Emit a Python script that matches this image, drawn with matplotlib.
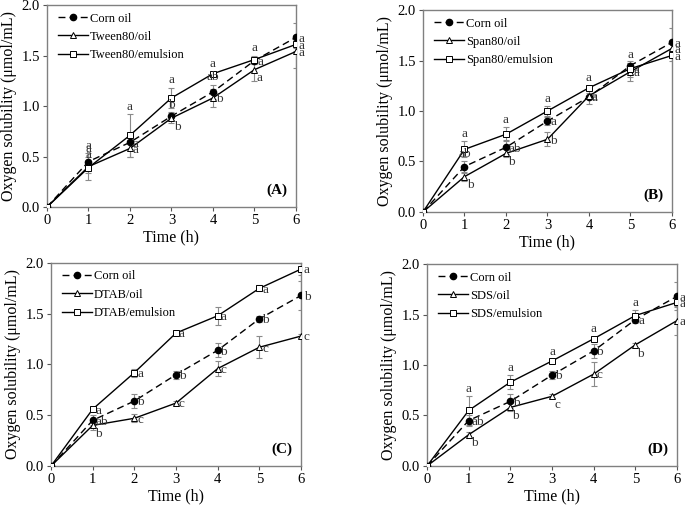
import matplotlib.pyplot as plt
import numpy as np

plt.rcParams['font.family'] = ['Liberation Serif', 'DejaVu Serif']
plt.rcParams['mathtext.fontset'] = 'stix'

time_h = [0, 1, 2, 3, 4, 5, 6]

# Corn oil control (same in every panel)
corn_y = [0, 0.45, 0.64, 0.90, 1.14, 1.45, 1.68]
corn_err = [0, 0.05, 0.07, 0.04, 0.07, 0.03, 0.14]

# (A) Tween80
tween_oil_y = [0, 0.40, 0.58, 0.88, 1.08, 1.36, 1.54]
tween_oil_err = [0, 0.13, 0.08, 0.05, 0.09, 0.11, 0.16]
tween_emu_y = [0, 0.39, 0.71, 1.08, 1.32, 1.46, 1.61]
tween_emu_err = [0, 0.05, 0.21, 0.10, 0.02, 0.04, 0.04]

# (B) Span80
span_oil_y = [0, 0.35, 0.58, 0.72, 1.15, 1.39, 1.62]
span_oil_err = [0, 0.04, 0.04, 0.07, 0.03, 0.09, 0.05]
span_emu_y = [0, 0.62, 0.77, 1.00, 1.23, 1.42, 1.55]
span_emu_err = [0, 0.08, 0.07, 0.05, 0.02, 0.08, 0.05]

# (C) DTAB
dtab_oil_y = [0, 0.40, 0.47, 0.62, 0.96, 1.17, 1.28]
dtab_oil_err = [0, 0.05, 0.04, 0.02, 0.07, 0.11, 0.02]
dtab_emu_y = [0, 0.56, 0.92, 1.31, 1.48, 1.75, 1.94]
dtab_emu_err = [0, 0.02, 0.04, 0.02, 0.09, 0.03, 0.06]

# (D) SDS
sds_oil_y = [0, 0.31, 0.58, 0.69, 0.91, 1.20, 1.44]
sds_oil_err = [0, 0.03, 0.04, 0.02, 0.12, 0.02, 0.14]
sds_emu_y = [0, 0.55, 0.83, 1.04, 1.26, 1.49, 1.62]
sds_emu_err = [0, 0.14, 0.07, 0.02, 0.02, 0.05, 0.05]

# significance letters for t = 1..6
corn_letters = {
    'A': ['a', 'a', 'b', 'ab', 'a', 'a'],
    'B': ['ab', 'ab', 'a', 'a', 'a', 'a'],
    'C': ['ab', 'b', 'b', 'b', 'b', 'b'],
    'D': ['ab', 'b', 'b', 'b', 'a', 'a'],
}
oil_letters = {
    'A': ['a', 'a', 'b', 'b', 'a', 'a'],
    'B': ['b', 'b', 'b', 'a', 'a', 'a'],
    'C': ['b', 'c', 'c', 'c', 'c', 'c'],
    'D': ['b', 'b', 'c', 'c', 'b', 'a'],
}
emu_letters = {
    'A': ['a'] * 6,
    'B': ['a'] * 6,
    'C': ['a'] * 6,
    'D': ['a'] * 6,
}

# where each letter sits: r = right, u = above, d = below right
corn_pos = {
    'A': 'uruurr', 'B': 'urrrur', 'C': 'rrrrrr', 'D': 'rrrrrr',
}
oil_pos = {
    'A': 'urdrdr', 'B': 'ddrrrr', 'C': 'drrrrr', 'D': 'dddrdr',
}
emu_pos = {
    'A': 'uuuuur', 'B': 'uuuurr', 'C': 'rrrrrr', 'D': 'uuuuur',
}

panels = [
    ('A', 'Tween80', tween_oil_y, tween_oil_err, tween_emu_y, tween_emu_err),
    ('B', 'Span80', span_oil_y, span_oil_err, span_emu_y, span_emu_err),
    ('C', 'DTAB', dtab_oil_y, dtab_oil_err, dtab_emu_y, dtab_emu_err),
    ('D', 'SDS', sds_oil_y, sds_oil_err, sds_emu_y, sds_emu_err),
]

boxes = {
    'A': [0.0686, 0.5925, 0.3635, 0.3976],
    'B': [0.6175, 0.5827, 0.3635, 0.3976],
    'C': [0.0745, 0.0827, 0.3650, 0.3996],
    'D': [0.6234, 0.0827, 0.3650, 0.3976],
}

offsets = {
    'r': ((2, -1), 'left', 'center'),
    'u': ((0, 1), 'center', 'bottom'),
    'd': ((1.5, -2), 'left', 'top'),
}

fig = plt.figure(figsize=(6.85, 5.08), dpi=100)


def put_letters(ax, y, err, letters, pos):
    for i, (lt, p) in enumerate(zip(letters, pos)):
        (dx, dy), ha, va = offsets[p]
        yy = y[i + 1] + (err[i + 1] if p == 'u' else 0)
        ax.annotate(lt, (time_h[i + 1], yy), xytext=(dx, dy),
                    textcoords='offset points', ha=ha, va=va,
                    fontsize=9.5, color='#333333')


for key, name, oil_y, oil_err, emu_y, emu_err in panels:
    ax = fig.add_axes(boxes[key])
    ekw = dict(fmt='none', ecolor='#8a8a8a', elinewidth=0.8, capsize=2,
               capthick=0.8, zorder=2)
    ax.errorbar(time_h, corn_y, yerr=corn_err, **ekw)
    ax.errorbar(time_h, oil_y, yerr=oil_err, **ekw)
    ax.errorbar(time_h, emu_y, yerr=emu_err, **ekw)

    ax.plot(time_h, corn_y, color='black', ls='--', lw=1.0, dashes=(5, 3),
            marker='o', ms=4.5, mfc='black', mec='black',
            label='Corn oil', zorder=3)
    ax.plot(time_h, oil_y, color='black', ls='-', lw=1.0,
            marker='^', ms=4, mfc='white', mec='black', mew=0.7,
            label=name + '/oil', zorder=3)
    ax.plot(time_h, emu_y, color='black', ls='-', lw=1.0,
            marker='s', ms=4.5, mfc='white', mec='black', mew=0.7,
            label=name + '/emulsion', zorder=3)

    put_letters(ax, corn_y, corn_err, corn_letters[key], corn_pos[key])
    put_letters(ax, oil_y, oil_err, oil_letters[key], oil_pos[key])
    put_letters(ax, emu_y, emu_err, emu_letters[key], emu_pos[key])

    ax.set_xlim(0, 6)
    ax.set_ylim(0, 2.0)
    ax.set_xticks(time_h)
    ax.set_yticks(np.arange(0, 2.01, 0.5))
    ax.yaxis.set_major_formatter(plt.FormatStrFormatter('%.1f'))
    ax.tick_params(direction='out', length=3, labelsize=10.5, color='#555555',
                   pad=2)
    for s in ax.spines.values():
        s.set_color('#808080')
        s.set_linewidth(1.0)
    ax.set_xlabel('Time (h)', fontsize=11.5, labelpad=2)
    ax.set_ylabel('Oxygen solubility (μmol/mL)', fontsize=11.5, labelpad=3)
    ax.text(0.965, 0.05, '(' + key + ')', transform=ax.transAxes, ha='right',
            va='bottom', fontsize=11, fontweight='bold')
    ax.legend(loc='upper left', frameon=False, fontsize=9, handlelength=2.4,
              labelspacing=0.5, borderaxespad=0.2, handletextpad=0.15,
              bbox_to_anchor=(0.015, 1.0))

fig.savefig('out.png', dpi=100)
